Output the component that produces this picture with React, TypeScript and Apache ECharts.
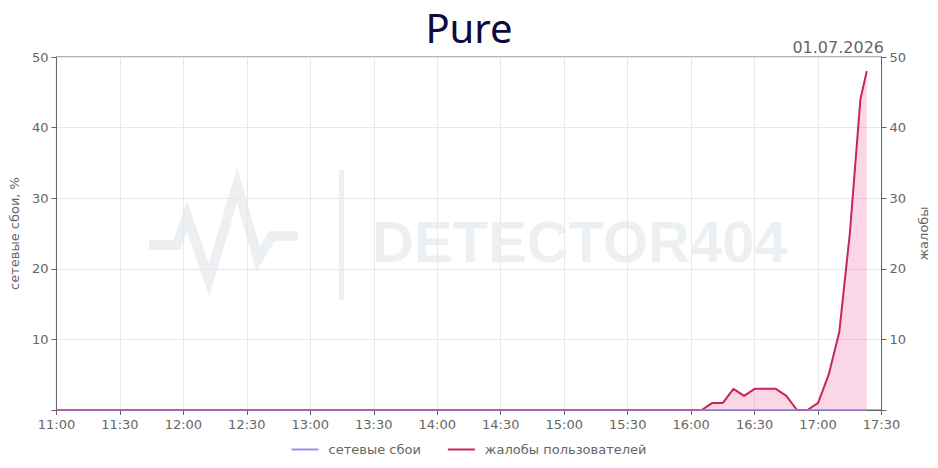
import React, { useEffect, useRef } from "react";
import * as echarts from "echarts";

const titleText = "Pure";
const dateText = "01.07.2026";
const seriesNames = ["сетевые сбои", "жалобы пользователей"];
const leftAxisName = "сетевые сбои, %";
const rightAxisName = "жалобы";

const times = [
  "11:00", "11:05", "11:10", "11:15", "11:20", "11:25", "11:30", "11:35", "11:40", "11:45", "11:50", "11:55",
  "12:00", "12:05", "12:10", "12:15", "12:20", "12:25", "12:30", "12:35", "12:40", "12:45", "12:50", "12:55",
  "13:00", "13:05", "13:10", "13:15", "13:20", "13:25", "13:30", "13:35", "13:40", "13:45", "13:50", "13:55",
  "14:00", "14:05", "14:10", "14:15", "14:20", "14:25", "14:30", "14:35", "14:40", "14:45", "14:50", "14:55",
  "15:00", "15:05", "15:10", "15:15", "15:20", "15:25", "15:30", "15:35", "15:40", "15:45", "15:50", "15:55",
  "16:00", "16:05", "16:10", "16:15", "16:20", "16:25", "16:30", "16:35", "16:40", "16:45", "16:50", "16:55",
  "17:00", "17:05", "17:10", "17:15", "17:20", "17:23",
];

const outages = [
  0, 0, 0, 0, 0, 0, 0, 0, 0, 0, 0, 0,
  0, 0, 0, 0, 0, 0, 0, 0, 0, 0, 0, 0,
  0, 0, 0, 0, 0, 0, 0, 0, 0, 0, 0, 0,
  0, 0, 0, 0, 0, 0, 0, 0, 0, 0, 0, 0,
  0, 0, 0, 0, 0, 0, 0, 0, 0, 0, 0, 0,
  0, 0, 0, 0, 0, 0, 0, 0, 0, 0, 0, 0,
  0, 0, 0, 0, 0, 0,
];

const complaints = [
  0, 0, 0, 0, 0, 0, 0, 0, 0, 0, 0, 0,
  0, 0, 0, 0, 0, 0, 0, 0, 0, 0, 0, 0,
  0, 0, 0, 0, 0, 0, 0, 0, 0, 0, 0, 0,
  0, 0, 0, 0, 0, 0, 0, 0, 0, 0, 0, 0,
  0, 0, 0, 0, 0, 0, 0, 0, 0, 0, 0, 0,
  0, 0, 1, 1, 3, 2, 3, 3, 3, 2, 0, 0,
  1, 5, 11, 25, 44, 48,
];

const xTickLabels = ["11:00", "11:30", "12:00", "12:30", "13:00", "13:30", "14:00", "14:30", "15:00", "15:30", "16:00", "16:30", "17:00", "17:30"];

const toMin = (t: string) => {
  const [h, m] = t.split(":").map(Number);
  return h * 60 + m;
};
const toLabel = (v: number) => {
  const h = Math.floor(v / 60);
  const m = v % 60;
  return `${String(h).padStart(2, "0")}:${String(m).padStart(2, "0")}`;
};

export default function App() {
  const ref = useRef<HTMLDivElement>(null);
  useEffect(() => {
    document.body.style.margin = "0";
    const chart = echarts.init(ref.current!, null, { renderer: "svg" });
    const font = "DejaVu Sans";
    const grey = "#666";
    const wm = "#edf0f3";
    const xMin = toMin(xTickLabels[0]);
    const xMax = toMin(xTickLabels[xTickLabels.length - 1]);
    chart.setOption({
      animation: false,
      title: {
        text: titleText,
        left: "center",
        top: 2,
        textStyle: { fontFamily: "Noto Sans", fontSize: 40, fontWeight: "normal", color: "#0b0b3d" },
      },
      graphic: [
        {
          type: "group",
          z: -10,
          silent: true,
          children: [
            {
              type: "polyline",
              shape: {
                points: [
                  [149, 245], [177, 245], [187, 216], [209, 280], [237, 185], [258, 259], [272, 236], [298, 236],
                ],
              },
              style: { stroke: wm, lineWidth: 10, fill: null, lineJoin: "miter" },
            },
            { type: "rect", shape: { x: 339, y: 170, width: 5, height: 130 }, style: { fill: wm } },
            {
              type: "text",
              x: 372,
              y: 241,
              style: {
                text: "DETECTOR404",
                fontFamily: "Liberation Sans",
                fontWeight: "bold",
                fontSize: 58,
                fill: wm,
                align: "left",
                verticalAlign: "middle",
              },
            },
          ],
        },
        {
          type: "text",
          right: 54,
          top: 39,
          style: { text: dateText, fontFamily: font, fontSize: 16, fill: grey },
        },
      ],
      legend: {
        top: 438,
        left: "center",
        itemWidth: 27,
        itemHeight: 2,
        itemGap: 27,
        icon: "rect",
        textStyle: { fontFamily: font, fontSize: 13, color: grey, padding: [0, 0, 0, 5] },
        data: seriesNames,
      },
      grid: {
        left: 54,
        right: 54,
        top: 57,
        bottom: 58,
        show: true,
        borderColor: grey,
        borderWidth: 1,
      },
      xAxis: {
        type: "value",
        min: xMin,
        max: xMax,
        interval: 30,
        axisLine: { show: true, lineStyle: { color: grey } },
        axisTick: { show: true, length: 5, lineStyle: { color: grey } },
        axisLabel: { fontFamily: font, fontSize: 13, color: grey, margin: 8, formatter: (v: number) => toLabel(v) },
        splitLine: { show: true, lineStyle: { color: "#e8e8e8" } },
      },
      yAxis: [
        {
          type: "value",
          min: 0,
          max: 50,
          interval: 10,
          position: "left",
          name: leftAxisName,
          nameLocation: "middle",
          nameGap: 33,
          nameTextStyle: { fontFamily: font, fontSize: 13, color: grey },
          axisLine: { show: true, lineStyle: { color: grey } },
          axisTick: { show: true, length: 5, lineStyle: { color: grey } },
          axisLabel: { fontFamily: font, fontSize: 13, color: grey, margin: 8, formatter: (v: number) => (v === 0 ? "" : String(v)) },
          splitLine: { show: true, lineStyle: { color: "#e8e8e8" } },
        },
        {
          type: "value",
          min: 0,
          max: 50,
          interval: 10,
          position: "right",
          name: rightAxisName,
          nameLocation: "middle",
          nameGap: 29,
          nameTextStyle: { fontFamily: font, fontSize: 13, color: grey },
          axisLine: { show: true, lineStyle: { color: grey } },
          axisTick: { show: true, length: 5, lineStyle: { color: grey } },
          axisLabel: { fontFamily: font, fontSize: 13, color: grey, margin: 8, formatter: (v: number) => (v === 0 ? "" : String(v)) },
          splitLine: { show: false },
        },
      ],
      series: [
        {
          name: seriesNames[1],
          type: "line",
          yAxisIndex: 1,
          symbol: "none",
          data: times.map((t, i) => [toMin(t), complaints[i]]),
          lineStyle: { color: "#c8245e", width: 2 },
          itemStyle: { color: "#c8245e" },
          areaStyle: { color: "rgba(230,60,135,0.3)" },
          z: 2,
        },
        {
          name: seriesNames[0],
          type: "line",
          yAxisIndex: 0,
          symbol: "none",
          data: times.map((t, i) => [toMin(t), outages[i]]),
          lineStyle: { color: "#9d8fe6", width: 2, opacity: 0.6 },
          itemStyle: { color: "#9d8fe6" },
          z: 3,
        },
      ],
    });
    return () => chart.dispose();
  }, []);
  return <div ref={ref} style={{ width: 938, height: 468 }} />;
}
